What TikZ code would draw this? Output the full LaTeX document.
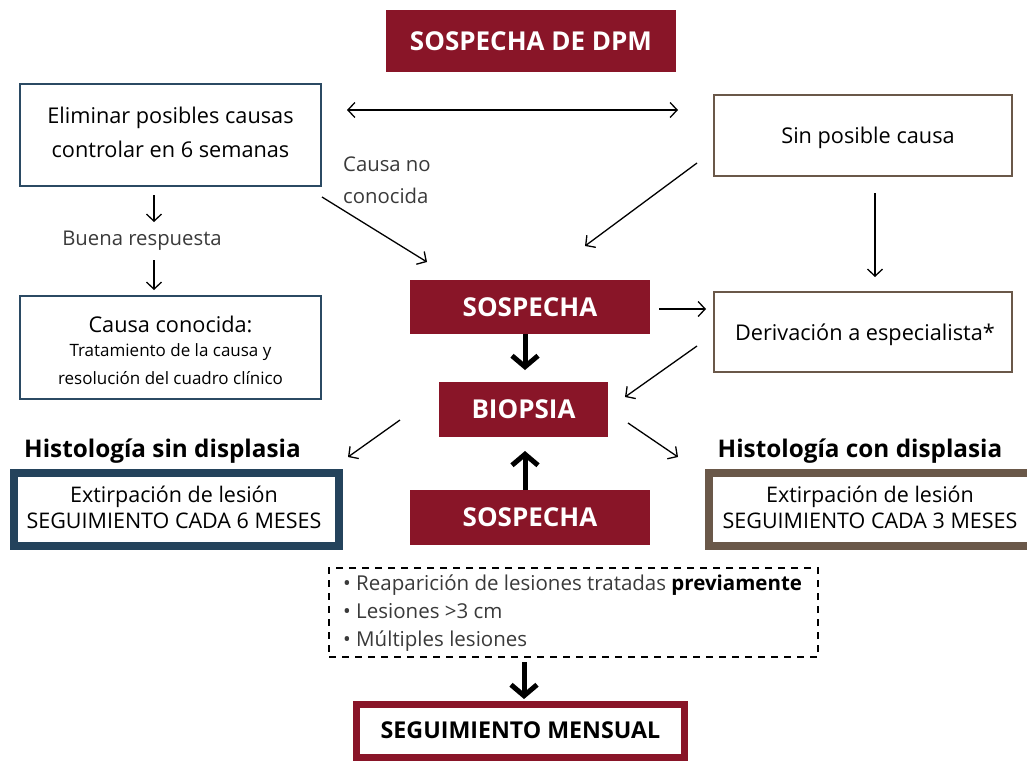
\documentclass[tikz,border=0pt]{standalone}
\usepackage{fontspec}
\setmainfont{Open Sans}
\usetikzlibrary{arrows.meta}
\definecolor{dpmred}{HTML}{891528}
\definecolor{thinblue}{HTML}{2B4A63}
\definecolor{thickblue}{HTML}{24435C}
\definecolor{brownb}{HTML}{6A5849}
\definecolor{lighttxt}{HTML}{3A3A3A}
\tikzset{
  redbox/.style={fill=dpmred, text=white, inner sep=0pt, font=\fontsize{26}{28}\selectfont\bfseries},
  bluebox/.style={draw=thinblue, line width=2pt, fill=white, inner sep=0pt, align=center},
  brownbox/.style={draw=brownb, line width=2pt, fill=white, inner sep=0pt, align=center},
  thin/.style={line width=1.3pt, -{Straight Barb[length=7pt,width=15pt]}},
  thick/.style={line width=5pt, -{Straight Barb[length=11pt,width=26pt]}},
  ltext/.style={text=lighttxt, font=\fontsize{20.3}{24}\selectfont, inner sep=0pt},
  ntext/.style={font=\fontsize{21.7}{34}\selectfont},
  plain/.style={inner sep=0pt}
}
\begin{document}
\begin{tikzpicture}[x=1pt,y=-1pt]
\clip (0,0) rectangle (1027,761);
\fill[white] (0,0) rectangle (1027,761);

% red boxes
\node[redbox, minimum width=290pt, minimum height=62pt] (top) at (531,41) {SOSPECHA DE DPM};
\node[redbox, minimum width=240pt, minimum height=54pt] (sos1) at (530,307) {SOSPECHA};
\node[redbox, minimum width=169pt, minimum height=55pt] (bio) at (523.5,409.5) {BIOPSIA};
\node[redbox, minimum width=240pt, minimum height=55pt] (sos2) at (530,517.5) {SOSPECHA};

% left boxes
\node[bluebox, minimum width=301pt, minimum height=102pt] (elim) at (170.5,135) {};
\node[plain, ntext, align=center] (elimt) at (170.5,132) {Eliminar posibles causas\\controlar en 6 semanas};
\node[bluebox, minimum width=301pt, minimum height=103pt] (conoc) at (170.5,347.5) {};
\node[plain, font=\fontsize{21.7}{24}\selectfont] (conoc1) at (170.5,324) {Causa conocida:};
\node[plain, font=\fontsize{17}{20}\selectfont] (conoc2) at (170.5,352) {Tratamiento de la causa y};
\node[plain, font=\fontsize{17}{20}\selectfont] (conoc3) at (170.5,378) {resolución del cuadro clínico};

% right boxes
\node[brownbox, minimum width=298pt, minimum height=81pt] (sin) at (863,135.5) {};
\node[plain, ntext] (sint) at (868,138) {Sin posible causa};
\node[brownbox, minimum width=298pt, minimum height=80pt] (deriv) at (863,332) {};
\node[plain, ntext] (derivt) at (865,335) {Derivación a especialista*};

% labels
\node[ltext, anchor=west, align=left, font=\fontsize{20.3}{32}\selectfont] (cnc) at (343,180) {Causa no\\conocida};
\node[ltext] (buena) at (142,241) {Buena respuesta};

\node[plain, font=\fontsize{24.3}{28}\selectfont\bfseries] (hsin) at (162.5,451) {Histología sin displasia};
\node[plain, font=\fontsize{24.3}{28}\selectfont\bfseries] (hcon) at (860,451) {Histología con displasia};

% thick boxes
\node[draw=thickblue, line width=8pt, fill=white, minimum width=325pt, minimum height=73pt, inner sep=0pt] (ext6) at (176.5,509.5) {};
\node[plain, align=center, font=\fontsize{21.5}{26}\selectfont] (ext6t) at (174,507)
  {Extirpación de lesión\\SEGUIMIENTO CADA 6 MESES};
\node[draw=brownb, line width=8pt, fill=white, minimum width=340pt, minimum height=73pt, inner sep=0pt] (ext3) at (879,509.5) {};
\node[plain, align=center, font=\fontsize{21.5}{26}\selectfont] (ext3t) at (870,507)
  {Extirpación de lesión\\SEGUIMIENTO CADA 3 MESES};

% dashed box
\node[draw, dashed, dash pattern=on 7pt off 6pt, line width=2pt, minimum width=489pt, minimum height=89pt, inner sep=0pt] (dash) at (573.5,612.5) {};
\node[anchor=west, align=left, inner sep=0pt, text=lighttxt, font=\fontsize{20.5}{28}\selectfont] (items) at (343,613)
  {• Reaparición de lesiones tratadas \textcolor{black}{\bfseries previamente}\\
   • Lesiones >3 cm\\
   • Múltiples lesiones};

% final box
\node[draw=dpmred, line width=7pt, fill=white, minimum width=328pt, minimum height=53pt, inner sep=0pt,
  font=\fontsize{23.2}{26}\selectfont\bfseries] (mens) at (520.5,730.5) {SEGUIMIENTO MENSUAL};

% coordinates for connectors
\coordinate (da) at (347,110);
\coordinate (db) at (678,110);
\coordinate (c1a) at (322,197);
\coordinate (c1b) at (427,262);
\coordinate (c2a) at (697,163);
\coordinate (c2b) at (585,246);
\coordinate (e1) at (154,195);
\coordinate (e2) at (154,222);
\coordinate (e3) at (154,260);
\coordinate (e4) at (154,290);
\coordinate (s1) at (875,193);
\coordinate (s2) at (875,277);
\coordinate (r1) at (659,309);
\coordinate (r2) at (706,309);
\coordinate (d1) at (697,346);
\coordinate (d2) at (625,397);
\coordinate (b1) at (400,420);
\coordinate (b2) at (348,457);
\coordinate (b3) at (628,423);
\coordinate (b4) at (678,457);
\coordinate (k1) at (525,334);
\coordinate (k2) at (525,370);
\coordinate (k3) at (525,490);
\coordinate (k4) at (525,451);
\coordinate (k5) at (524,662);
\coordinate (k6) at (524,699);

\draw[line width=1.3pt, {Straight Barb[length=7pt,width=15pt]}-{Straight Barb[length=7pt,width=15pt]}] (da) -- (db);
\draw[thin] (c1a) -- (c1b);
\draw[thin] (c2a) -- (c2b);
\draw[thin] (e1) -- (e2);
\draw[thin] (e3) -- (e4);
\draw[thin] (s1) -- (s2);
\draw[thin] (r1) -- (r2);
\draw[thin] (d1) -- (d2);
\draw[thin] (b1) -- (b2);
\draw[thin] (b3) -- (b4);

\draw[thick] (k1) -- (k2);
\draw[thick] (k3) -- (k4);
\draw[thick] (k5) -- (k6);
\end{tikzpicture}
\end{document}
